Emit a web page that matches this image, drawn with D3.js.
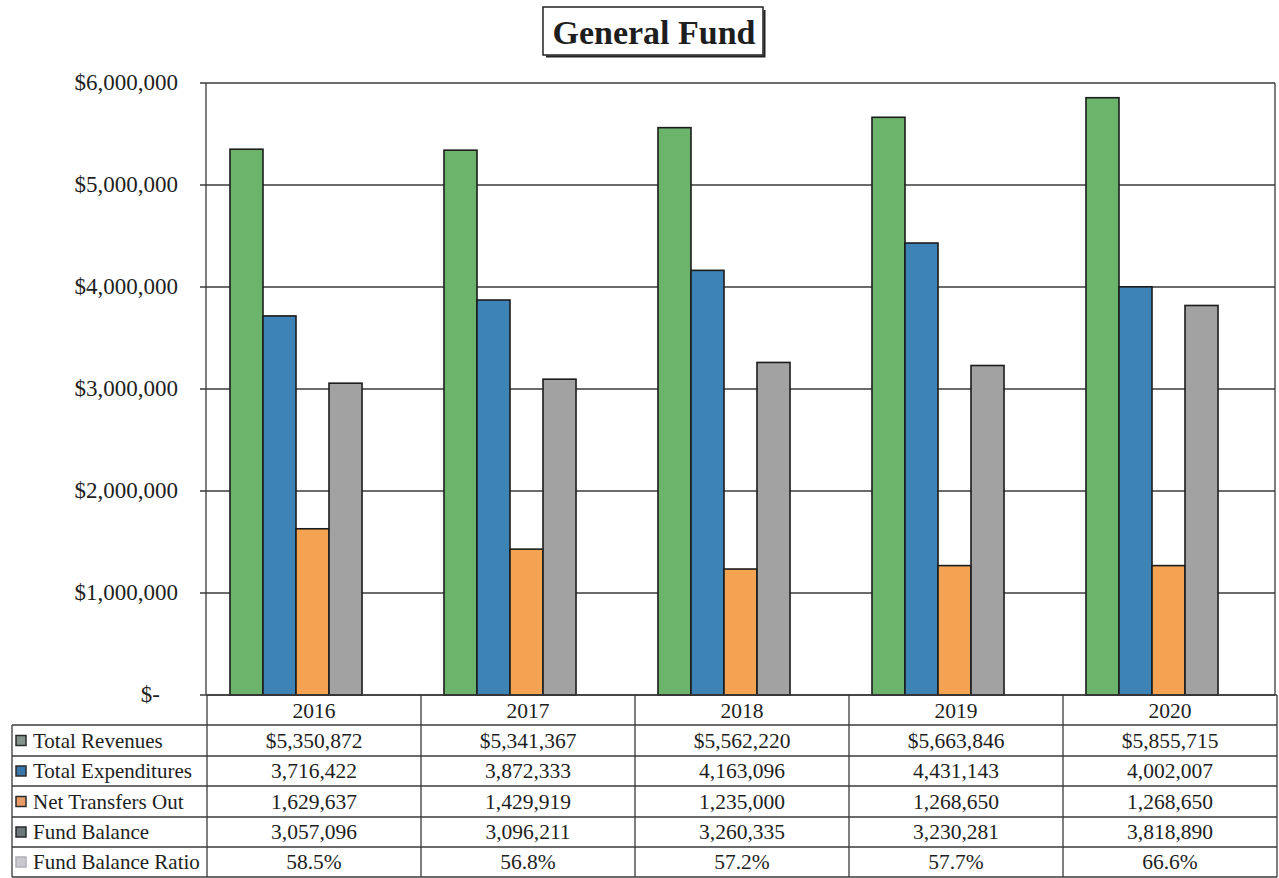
<!DOCTYPE html>
<html>
<head>
<meta charset="utf-8">
<script src="https://cdn.jsdelivr.net/npm/d3@7"></script>
<style>
  html, body { margin: 0; padding: 0; background: #fff; }
  svg { display: block; }
  text { font-family: "Liberation Serif", "Times New Roman", serif; fill: #1e1e1e; }
</style>
</head>
<body>
<svg id="chart" width="1279" height="878"></svg>
<script>
// ---- data ----
const years = ["2016", "2017", "2018", "2019", "2020"];
const seriesNames = ["Total Revenues", "Total Expenditures", "Net Transfers Out", "Fund Balance", "Fund Balance Ratio"];
const totalRevenues = [5350872, 5341367, 5562220, 5663846, 5855715];
const totalExpenditures = [3716422, 3872333, 4163096, 4431143, 4002007];
const netTransfersOut = [1629637, 1429919, 1235000, 1268650, 1268650];
const fundBalance = [3057096, 3096211, 3260335, 3230281, 3818890];
const fundBalanceRatio = [0.585, 0.568, 0.572, 0.577, 0.666];
const yTicks = [0, 1000000, 2000000, 3000000, 4000000, 5000000, 6000000];

// bar series drawn in the plot (ratio appears only in the table)
const barSeries = [
  { name: "Total Revenues", values: totalRevenues, fill: "#6cb46c" },
  { name: "Total Expenditures", values: totalExpenditures, fill: "#3d83b6" },
  { name: "Net Transfers Out", values: netTransfersOut, fill: "#f4a352" },
  { name: "Fund Balance", values: fundBalance, fill: "#a2a2a2" }
];
const legendFills = ["#84948a", "#3b76a8", "#e59c68", "#6c777e", "#c9c9cf"];
const legendStrokes = ["#2a2a2a", "#2a2a2a", "#2a2a2a", "#2a2a2a", "#b0b0b8"];

// ---- layout ----
const svg = d3.select("#chart");
const plot = { left: 206, right: 1275, top: 83, bottom: 695 };
const table = { left: 12, colStart: 207, right: 1277, rows: [695, 725, 756, 786, 817, 847, 877] };

const y = d3.scaleLinear().domain([0, 6000000]).range([plot.bottom, plot.top]);
const xGroup = d3.scaleBand().domain(years).range([189, 1259]).paddingInner(0.383).paddingOuter(0.1915);
const xBar = d3.scaleBand().domain(barSeries.map(s => s.name)).range([0, xGroup.bandwidth()]).padding(0);
const xCol = d3.scaleBand().domain(years).range([table.colStart, table.right]);

// ---- title ----
const title = svg.append("g");
title.append("rect").attr("x", 543).attr("y", 7).attr("width", 220).attr("height", 48)
  .attr("fill", "none").attr("stroke", "#222").attr("stroke-width", 1.5);
title.append("path").attr("d", "M546,56.5 H764.5 V10").attr("fill", "none").attr("stroke", "#222").attr("stroke-width", 2);
title.append("text").attr("x", 654).attr("y", 44).attr("text-anchor", "middle")
  .attr("font-size", 34).attr("font-weight", "bold").text("General Fund");

// ---- gridlines and axes ----
const grid = svg.append("g").attr("stroke", "#3a3a3a").attr("stroke-width", 1.3);
grid.selectAll("line.g").data(yTicks).join("line")
  .attr("x1", plot.left - 6).attr("x2", plot.right)
  .attr("y1", d => y(d)).attr("y2", d => y(d));
grid.append("line").attr("x1", plot.left).attr("x2", plot.left).attr("y1", plot.top).attr("y2", plot.bottom);
grid.append("line").attr("x1", plot.right).attr("x2", plot.right).attr("y1", plot.top).attr("y2", plot.bottom);

const fmtTick = d => d === 0 ? "$-" : "$" + d3.format(",")(d);
svg.append("g").selectAll("text").data(yTicks).join("text")
  .attr("x", d => d === 0 ? 160 : 178).attr("y", d => y(d) + 7)
  .attr("text-anchor", "end").attr("font-size", 23).text(fmtTick);

// ---- bars ----
const groups = svg.append("g").selectAll("g").data(years).join("g")
  .attr("transform", d => `translate(${xGroup(d)},0)`);
groups.selectAll("rect").data((yr, i) => barSeries.map(s => ({ s, v: s.values[i] }))).join("rect")
  .attr("x", d => xBar(d.s.name)).attr("width", xBar.bandwidth())
  .attr("y", d => y(d.v)).attr("height", d => y(0) - y(d.v))
  .attr("fill", d => d.s.fill).attr("stroke", "#1c1c1c").attr("stroke-width", 1.6);

// ---- data table ----
const t = svg.append("g");
const lineColor = "#3a3a3a";
// horizontal rules
table.rows.forEach((ry, i) => {
  t.append("line").attr("x1", i === 0 ? table.colStart : table.left).attr("x2", table.right)
    .attr("y1", ry).attr("y2", ry).attr("stroke", lineColor).attr("stroke-width", 1.3);
});
// vertical rules
t.append("line").attr("x1", table.left).attr("x2", table.left)
  .attr("y1", table.rows[1]).attr("y2", table.rows[6]).attr("stroke", lineColor).attr("stroke-width", 1.3);
years.forEach(yr => {
  t.append("line").attr("x1", xCol(yr)).attr("x2", xCol(yr))
    .attr("y1", table.rows[0]).attr("y2", table.rows[6]).attr("stroke", lineColor).attr("stroke-width", 1.3);
});
t.append("line").attr("x1", table.right).attr("x2", table.right)
  .attr("y1", table.rows[0]).attr("y2", table.rows[6]).attr("stroke", lineColor).attr("stroke-width", 1.3);

// header row: years
t.selectAll("text.yr").data(years).join("text")
  .attr("x", d => xCol(d) + xCol.bandwidth() / 2).attr("y", table.rows[1] - 7)
  .attr("text-anchor", "middle").attr("font-size", 21.5).text(d => d);

// series rows
const fmtNum = d3.format(",");
const rowValues = [
  totalRevenues.map(v => "$" + fmtNum(v)),
  totalExpenditures.map(fmtNum),
  netTransfersOut.map(fmtNum),
  fundBalance.map(fmtNum),
  fundBalanceRatio.map(d3.format(".1%"))
];
seriesNames.forEach((name, r) => {
  const bottom = table.rows[r + 2];
  const mid = (table.rows[r + 1] + bottom) / 2;
  t.append("rect").attr("x", 16).attr("y", mid - 5).attr("width", 10).attr("height", 10)
    .attr("fill", legendFills[r]).attr("stroke", legendStrokes[r]).attr("stroke-width", 1.5);
  t.append("text").attr("x", 33).attr("y", bottom - 8).attr("font-size", 21).text(name);
  years.forEach((yr, c) => {
    t.append("text").attr("x", xCol(yr) + xCol.bandwidth() / 2).attr("y", bottom - 8)
      .attr("text-anchor", "middle").attr("font-size", 21.5).text(rowValues[r][c]);
  });
});
</script>
</body>
</html>
